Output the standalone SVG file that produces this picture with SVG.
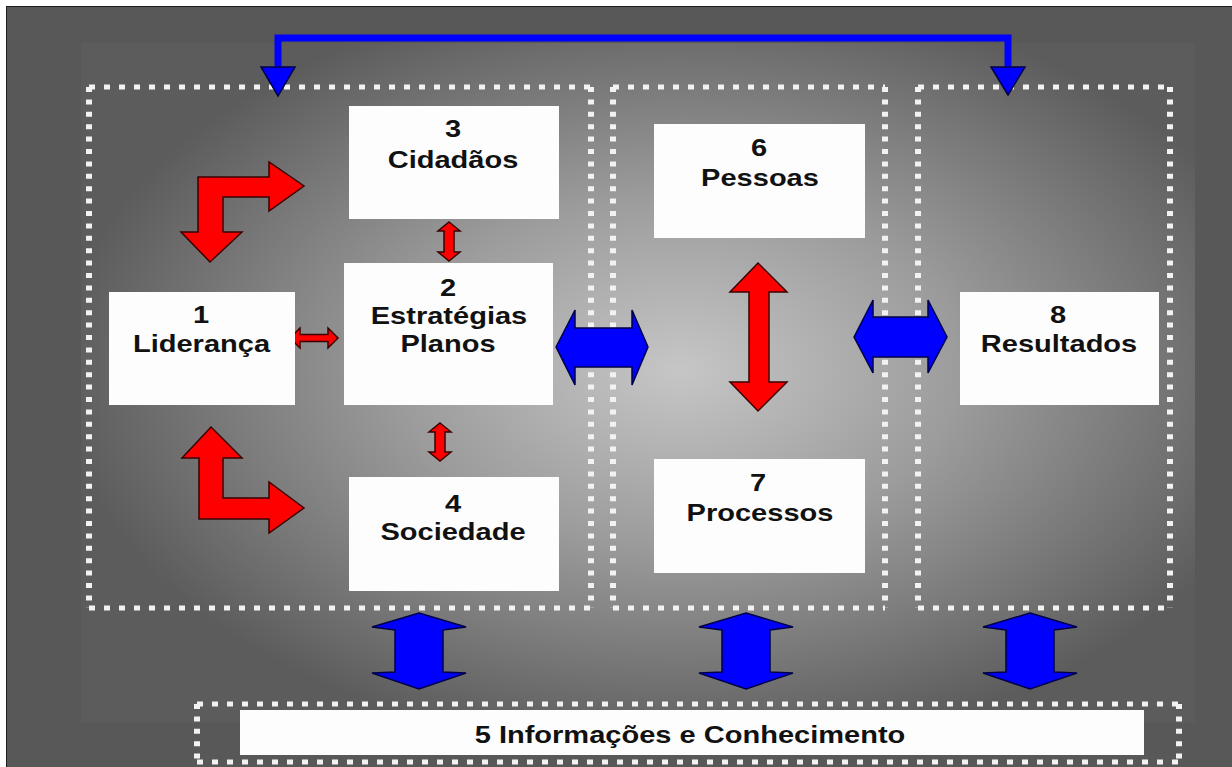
<svg xmlns="http://www.w3.org/2000/svg" width="1232" height="767" viewBox="0 0 1232 767">
  <defs>
    <radialGradient id="bg" gradientUnits="userSpaceOnUse" cx="680" cy="370" r="620" gradientTransform="translate(680 370) scale(1 0.62) translate(-680 -370)">
      <stop offset="0" stop-color="#c6c6c6"/>
      <stop offset="0.45" stop-color="#9c9c9c"/>
      <stop offset="1" stop-color="#5c5c5c"/>
    </radialGradient>
    <style>
      .box { fill: #fdfdfd; }
      .dh { fill: none; stroke: #f2f2f2; stroke-width: 5; stroke-dasharray: 6 9; }
      .dv { fill: none; stroke: #f2f2f2; stroke-width: 6; stroke-dasharray: 5 7.4; }
      .red { fill: #ff0000; stroke: #3a0000; stroke-width: 1.5; stroke-linejoin: miter; }
      .blue { fill: #0000ff; stroke: #00004a; stroke-width: 1.5; }
      .bline { fill: none; stroke: #0000ff; stroke-width: 7; }
      .t { font-family: "Liberation Sans", Arial, sans-serif; font-weight: bold; font-size: 24px; fill: #111; text-anchor: middle; }
    </style>
  </defs>

  <rect x="0" y="0" width="1232" height="767" fill="#ffffff"/>
  <rect x="6.5" y="6.5" width="1230" height="765" fill="#585858" stroke="#1e1e1e" stroke-width="1"/>
  <rect x="81" y="43" width="1114" height="680" fill="url(#bg)"/>

  <g id="containers">
    <g id="groupA">
      <path class="dh" d="M89 87 H591 M89 608 H591"/>
      <path class="dv" d="M89 87 V608 M591 87 V608"/>
    </g>
    <g id="groupB">
      <path class="dh" d="M613 87 H885 M613 608 H885"/>
      <path class="dv" d="M613 87 V608 M885 87 V608"/>
    </g>
    <g id="groupC">
      <path class="dh" d="M918 87 H1170 M918 608 H1170"/>
      <path class="dv" d="M918 87 V608 M1170 87 V608"/>
    </g>
    <g id="groupInfo">
      <path class="dh" d="M197 704 H1179 M197 762 H1179"/>
      <path class="dv" d="M197 704 V762 M1179 704 V762"/>
    </g>
  </g>

  <g id="connectors">
    <path class="bline" d="M278 70 V38 H1008 V70"/>
    <polygon class="blue" points="261,67 295,67 278,96"/>
    <polygon class="blue" points="991,67 1025,67 1008,95"/>

    <polygon class="red" points="210,262 181,232 198,232 198,177 269,177 269,162 304,186 269,211 269,197 223,197 223,232 242,232"/>
    <polygon class="red" points="211,427 242,458 223,458 223,498 269,498 269,482 304,508 269,533 269,519 199,519 199,458 182,458"/>

    <polygon class="red" points="449,222 460,231 454,231 454,252 460,252 449,261 438,252 444,252 444,231 438,231"/>
    <polygon class="red" points="440,423 451,432 445,432 445,452 451,452 440,461 429,452 435,452 435,432 429,432"/>
    <polygon class="red" points="290,338 300,328 300,334.5 328,334.5 328,328 338,338 328,348 328,341.5 300,341.5 300,348"/>

    <polygon class="red" points="758,263 787,292 769,292 769,382 787,382 758,411 730,382 749,382 749,292 730,292"/>

    <polygon class="blue" points="556,347 575,310 575,328 632,328 632,310 648,347 632,385 632,367 575,367 575,385"/>
    <polygon class="blue" points="854,337 873,300 873,317 928,317 928,300 947,337 928,373 928,357 873,357 873,373"/>

    <polygon class="blue" points="419,613 466,627 443,630 443,672 466,673 419,689 372,673 395,672 395,630 372,627"/>
    <polygon class="blue" points="746,613 793,627 770,630 770,672 793,673 746,689 699,673 722,672 722,630 699,627"/>
    <polygon class="blue" points="1030,613 1077,627 1054,630 1054,672 1077,673 1030,689 983,673 1006,672 1006,630 983,627"/>
  </g>

  <g id="node1">
    <rect class="box" x="109" y="292" width="186" height="113"/>
    <text class="t" transform="translate(201 323) scale(1.21 1)">1</text>
    <text class="t" transform="translate(201.5 352) scale(1.21 1)">Liderança</text>
  </g>
  <g id="node2">
    <rect class="box" x="344" y="263" width="209" height="142"/>
    <text class="t" transform="translate(448 296) scale(1.21 1)">2</text>
    <text class="t" transform="translate(449 324) scale(1.21 1)">Estratégias</text>
    <text class="t" transform="translate(448 352) scale(1.21 1)">Planos</text>
  </g>
  <g id="node3">
    <rect class="box" x="349" y="106" width="210" height="113"/>
    <text class="t" transform="translate(453 137) scale(1.21 1)">3</text>
    <text class="t" transform="translate(453 168) scale(1.21 1)">Cidadãos</text>
  </g>
  <g id="node4">
    <rect class="box" x="349" y="477" width="210" height="114"/>
    <text class="t" transform="translate(453 512) scale(1.21 1)">4</text>
    <text class="t" transform="translate(453 540) scale(1.21 1)">Sociedade</text>
  </g>
  <g id="node6">
    <rect class="box" x="654" y="124" width="211" height="114"/>
    <text class="t" transform="translate(759 156) scale(1.21 1)">6</text>
    <text class="t" transform="translate(760 186) scale(1.21 1)">Pessoas</text>
  </g>
  <g id="node7">
    <rect class="box" x="654" y="459" width="211" height="114"/>
    <text class="t" transform="translate(758 491) scale(1.21 1)">7</text>
    <text class="t" transform="translate(760 521) scale(1.21 1)">Processos</text>
  </g>
  <g id="node8">
    <rect class="box" x="960" y="292" width="199" height="113"/>
    <text class="t" transform="translate(1058 323) scale(1.21 1)">8</text>
    <text class="t" transform="translate(1059 352) scale(1.21 1)">Resultados</text>
  </g>
  <g id="node5">
    <rect class="box" x="240" y="710" width="904" height="45"/>
    <text class="t" transform="translate(690 743) scale(1.21 1)">5 Informações e Conhecimento</text>
  </g>
</svg>
